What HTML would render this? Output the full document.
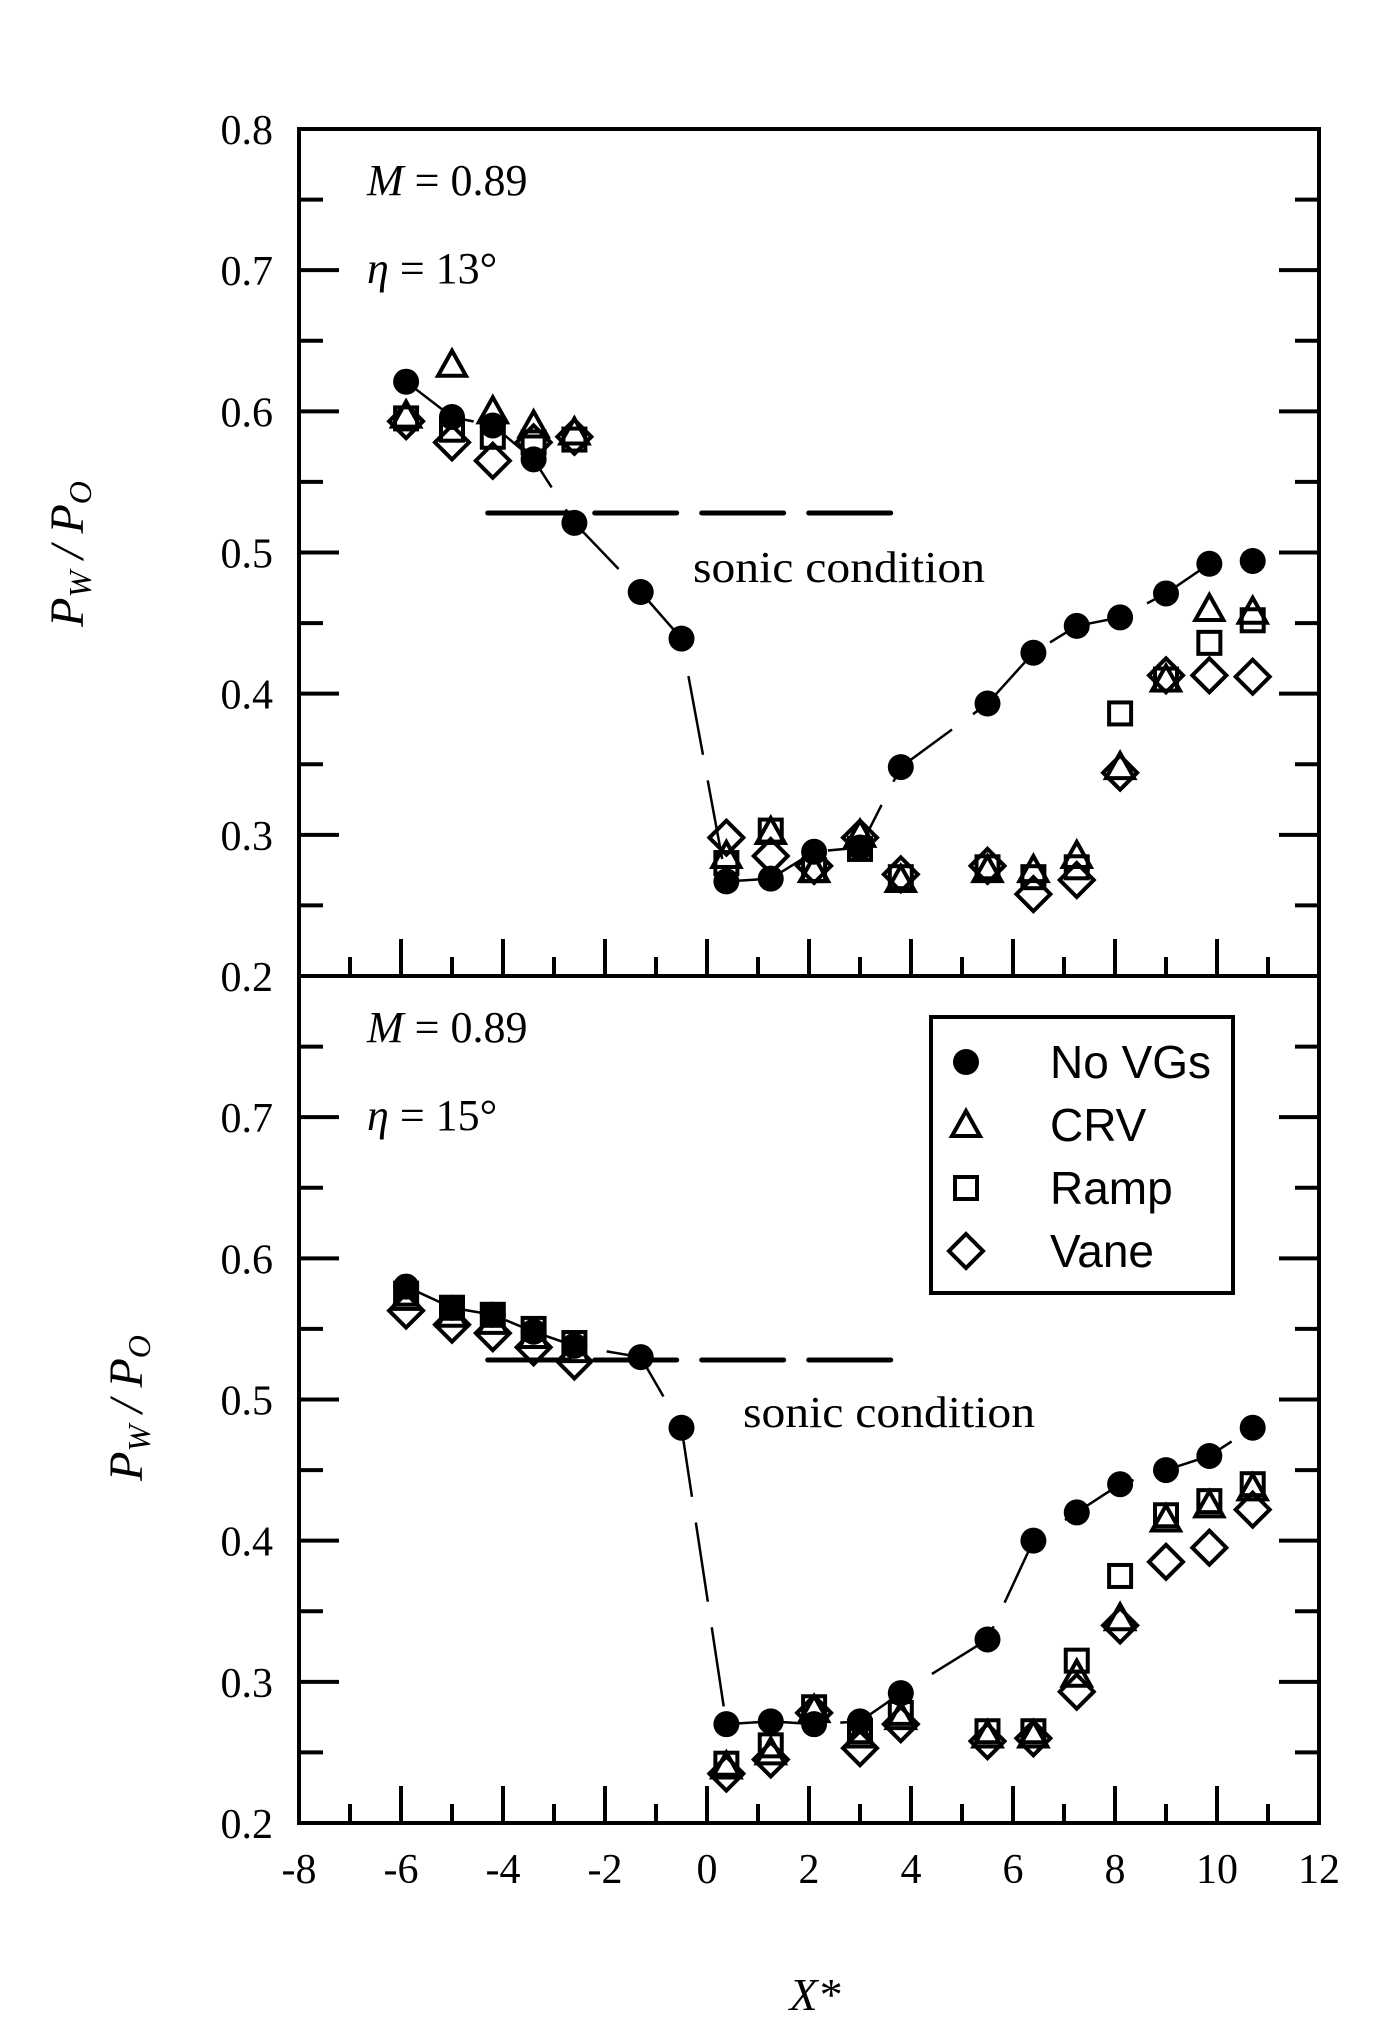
<!DOCTYPE html>
<html><head><meta charset="utf-8"><style>
html,body{margin:0;padding:0;background:#fff;}
svg{display:block;}
text{font-family:"Liberation Serif",serif;fill:#000;}
</style></head><body>
<svg id="chart" width="1380" height="2041" viewBox="0 0 1380 2041" xmlns="http://www.w3.org/2000/svg">
<g id="layer"></g>
</svg>
<script>
const xVals=[-5.9,-5.0,-4.2,-3.4,-2.6,-1.3,-0.5,0.38,1.25,2.1,3.0,3.8,5.5,6.4,7.25,8.1,9.0,9.85,10.7];
const xValsVG=[-5.9,-5.0,-4.2,-3.4,-2.6,0.38,1.25,2.1,3.0,3.8,5.5,6.4,7.25,8.1,9.0,9.85,10.7];
const topNoVG=[0.621,0.596,0.59,0.566,0.521,0.472,0.439,0.267,0.269,0.288,0.291,0.348,0.393,0.429,0.448,0.454,0.471,0.492,0.494];
const topCRV=[0.597,0.633,0.60,0.59,0.585,0.285,0.302,0.275,0.30,0.268,0.275,0.275,0.285,0.348,0.41,0.46,0.458];
const topRamp=[0.595,0.587,0.582,0.578,0.58,0.28,0.303,0.275,0.29,0.27,0.277,0.27,0.277,0.386,0.41,0.436,0.452];
const topVane=[0.593,0.578,0.565,0.578,0.582,0.298,0.285,0.278,0.298,0.272,0.278,0.258,0.268,0.344,0.413,0.413,0.412];
const botNoVG=[0.58,0.565,0.56,0.548,0.538,0.53,0.48,0.27,0.272,0.27,0.272,0.292,0.33,0.40,0.42,0.44,0.45,0.46,0.48];
const botCRV=[0.572,0.56,0.555,0.545,0.535,0.24,0.25,0.28,0.262,0.275,0.262,0.262,0.305,0.345,0.415,0.425,0.437];
const botRamp=[0.575,0.565,0.56,0.55,0.54,0.242,0.255,0.282,0.265,0.278,0.265,0.265,0.315,0.375,0.418,0.428,0.44];
const botVane=[0.563,0.553,0.547,0.537,0.527,0.235,0.245,0.278,0.253,0.27,0.258,0.26,0.293,0.34,0.385,0.395,0.422];
const xTicks=[-8,-6,-4,-2,0,2,4,6,8,10,12];
const yTicksTop=[0.2,0.3,0.4,0.5,0.6,0.7,0.8];
const yTicksBot=[0.2,0.3,0.4,0.5,0.6,0.7];
const sonicVal=0.528, sonicFrom=-4.3, sonicTo=3.75;

const NS="http://www.w3.org/2000/svg";
const root=document.getElementById('layer');
const L=299,R=1319;
const px=v=>L+(v+8)*(R-L)/20;
const panels=[{top:129,bot:976,noVG:topNoVG,crv:topCRV,ramp:topRamp,vane:topVane,name:'top',ticks:yTicksTop,
  M:195,eta:283,tx:693,ty:582,tl:83,tc:554},
 {top:976,bot:1823,noVG:botNoVG,crv:botCRV,ramp:botRamp,vane:botVane,name:'bottom',ticks:yTicksBot,
  M:1042,eta:1130,tx:743,ty:1427,tl:142,tc:1408}];
function mk(tag,attrs,parent){const e=document.createElementNS(NS,tag);for(const k in attrs)e.setAttribute(k,attrs[k]);(parent||root).appendChild(e);return e;}

function circle(g,x,y){const e=mk('circle',{cx:x,cy:y,r:13,fill:'#000'},g);}
function tri(g,x,y){const e=mk('polygon',{points:`${x},${y-14} ${x+14},${y+11} ${x-14},${y+11}`,fill:'none',stroke:'#000','stroke-width':4},g);}
function sq(g,x,y){const e=mk('rect',{x:x-11,y:y-11,width:22,height:22,fill:'none',stroke:'#000','stroke-width':4},g);}
function dia(g,x,y){const e=mk('polygon',{points:`${x},${y-17} ${x+17},${y} ${x},${y+17} ${x-17},${y}`,fill:'none',stroke:'#000','stroke-width':4},g);}

panels.forEach(p=>{
  const py=v=>p.bot-(v-0.2)*(p.bot-p.top)/0.6;
  const g=mk('g',{});
  
  
  const frame=mk('rect',{x:L,y:p.top,width:R-L,height:p.bot-p.top,fill:'none',stroke:'#000','stroke-width':4},g);
  
  
  for(let i=0;i<=12;i++){const v=0.2+i*0.05;const y=py(v);const len=i%2==0?40:24;
    mk('line',{x1:L,y1:y,x2:L+len,y2:y,stroke:'#000','stroke-width':4},g);
    mk('line',{x1:R,y1:y,x2:R-len,y2:y,stroke:'#000','stroke-width':4},g);}
  p.ticks.forEach(v=>{const t=mk('text',{x:273,y:py(v)+15,'text-anchor':'end','font-size':42},g);t.textContent=v.toFixed(1);
    
    });
  for(let v=-7;v<=11;v++){const x=px(v);const len=v%2==0?37:19;
    mk('line',{x1:x,y1:p.bot,x2:x,y2:p.bot-len,stroke:'#000','stroke-width':4},g);}
  const s=mk('line',{x1:px(sonicFrom),y1:py(sonicVal),x2:px(sonicTo),y2:py(sonicVal),stroke:'#000','stroke-width':5,'stroke-dasharray':'82 25','stroke-linecap':'round'},g);
  
  
  const st=mk('text',{x:p.tx,y:p.ty,'font-size':44,textLength:292,lengthAdjust:'spacingAndGlyphs'},g);st.textContent='sonic condition';
  
  
  const d=xVals.map((v,i)=>(i?'L':'M')+px(v)+','+py(p.noVG[i])).join(' ');
  const ln=mk('path',{d:d,fill:'none',stroke:'#000','stroke-width':2.5,'stroke-dasharray':'80 26'},g);
  
  
  xValsVG.forEach((v,i)=>{dia(g,px(v),py(p.vane[i]));});
  xValsVG.forEach((v,i)=>{sq(g,px(v),py(p.ramp[i]));});
  xValsVG.forEach((v,i)=>{tri(g,px(v),py(p.crv[i]));});
  xVals.forEach((v,i)=>{circle(g,px(v),py(p.noVG[i]));});
  const m=mk('text',{x:367,y:p.M,'font-size':44},g);
  m.innerHTML='<tspan font-style="italic">M</tspan> = 0.89';
  
  
  const e=mk('text',{x:367,y:p.eta,'font-size':44},g);
  e.innerHTML='<tspan font-style="italic">η</tspan> = '+(p.name=='top'?'13°':'15°');
  
  
  const yt=mk('text',{x:p.tl,y:p.tc,'font-size':48,'font-style':'italic','text-anchor':'middle',transform:`rotate(-90 ${p.tl} ${p.tc})`},g);
  yt.innerHTML='P<tspan font-size="32" dy="8">W</tspan><tspan dy="-8"> / P</tspan><tspan font-size="32" dy="8">O</tspan>';
  
  
});
xTicks.forEach(v=>{const t=mk('text',{x:px(v),y:1883,'text-anchor':'middle','font-size':42});t.textContent=String(v);
  
  });
const xt=mk('text',{x:815,y:2010,'text-anchor':'middle','font-size':46,'font-style':'italic'});xt.textContent='X*';


const lg=mk('g',{});


mk('rect',{x:931,y:1017,width:302,height:276,fill:'#fff',stroke:'#000','stroke-width':4},lg);
const labels=['No VGs','CRV','Ramp','Vane'];
const fns=[circle,tri,sq,dia];
labels.forEach((lab,i)=>{const y=1078+i*63;fns[i](lg,966,y-16);
  const t=mk('text',{x:1050,y:y,'font-size':46,style:'font-family:"Liberation Sans",sans-serif'},lg);t.textContent=lab;
  
  });
</script>
</body></html>
